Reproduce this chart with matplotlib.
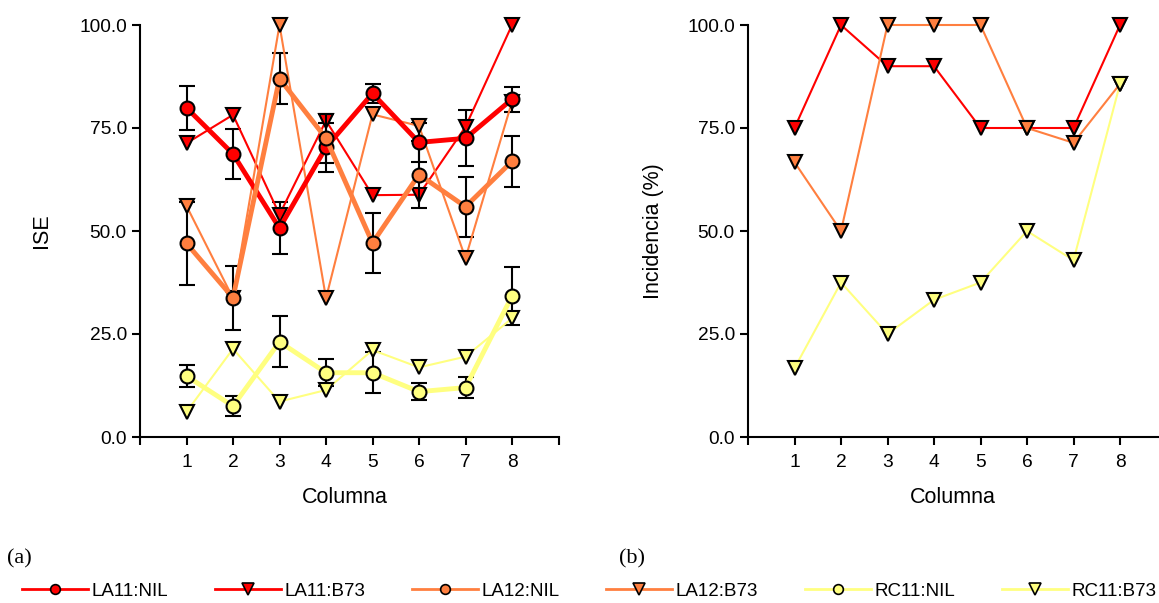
#!/usr/bin/env python3
# -*- coding: utf-8 -*-

import numpy as np
from matplotlib import pyplot as plt
from matplotlib.lines import Line2D

plt.rcParams['font.family'] = ['Liberation Sans', 'DejaVu Sans']

# column positions
columnas = [1, 2, 3, 4, 5, 6, 7, 8]
xtick_pos = [0, 1, 2, 3, 4, 5, 6, 7, 8, 9]
xtick_lab = ['', '1', '2', '3', '4', '5', '6', '7', '8', '']
ytick_pos = [0, 25, 50, 75, 100]

# (a) ISE
ise_la11_nil = [79.9, 68.7, 50.7, 70.3, 83.4, 71.5, 72.5, 82.0]
ise_la11_nil_err = [5.3, 6.1, 6.4, 6.0, 2.3, 4.8, 6.8, 3.0]
ise_la11_b73 = [71.3, 78.2, 54.0, 76.8, 58.7, 58.8, 75.3, 100.0]
ise_la12_nil = [47.0, 33.8, 87.0, 72.5, 47.1, 63.7, 55.9, 66.9]
ise_la12_nil_err = [10.0, 7.8, 6.1, 6.0, 7.2, 8.1, 7.3, 6.2]
ise_la12_b73 = [56.1, 33.7, 100.0, 33.7, 78.3, 75.5, 43.4, 81.4]
ise_rc11_nil = [14.8, 7.5, 23.1, 15.6, 15.6, 11.0, 12.0, 34.2]
ise_rc11_nil_err = [2.7, 2.5, 6.2, 3.3, 5.0, 2.0, 2.6, 7.0]
ise_rc11_b73 = [6.1, 21.4, 8.6, 11.4, 21.1, 16.9, 19.5, 28.8]

# (b) Incidencia (%)
inc_la11_b73 = [75.0, 100.0, 90.0, 90.0, 75.0, 75.0, 75.0, 100.0]
inc_la12_b73 = [66.7, 50.0, 100.0, 100.0, 100.0, 75.0, 71.4, 85.7]
inc_rc11_b73 = [16.7, 37.5, 25.0, 33.3, 37.5, 50.0, 42.9, 85.7]

ROJO = '#ff0000'
NARANJA = '#ff7f3f'
AMARILLO = '#ffff80'

TICK_FS = 13.8
LABEL_FS = 15.5


def style_axes(ax, ylabel, ylab_x):
    for s in ['top', 'right']:
        ax.spines[s].set_visible(False)
    for s in ['left', 'bottom']:
        ax.spines[s].set_linewidth(1.5)
    ax.set_xlim(0, 9)
    ax.set_ylim(0, 100)
    ax.set_xticks(xtick_pos)
    ax.set_xticklabels(xtick_lab)
    ax.set_yticks(ytick_pos)
    ax.set_yticklabels(['%.1f' % v for v in ytick_pos])
    ax.tick_params(direction='out', length=5.5, width=1.5, labelsize=TICK_FS, pad=4)
    ax.tick_params(axis='x', pad=7)
    ax.set_xlabel('Columna', fontsize=LABEL_FS)
    ax.set_ylabel(ylabel, fontsize=LABEL_FS)
    ax.xaxis.set_label_coords(0.49, -0.122)
    ax.yaxis.set_label_coords(ylab_x, 0.5)


def nil_series(ax, y, err, color):
    ax.errorbar(columnas, y, yerr=err, fmt='-o', color=color, lw=3.5,
                ms=10, mfc=color, mec='black', mew=1.5,
                ecolor='black', elinewidth=1.5, capsize=5.5, capthick=1.5,
                clip_on=False)


def b73_series(ax, y, color):
    ax.plot(columnas, y, '-v', color=color, lw=1.5, ms=10.5,
            mfc=color, mec='black', mew=1.5, clip_on=False)


def plot_data():
    fig = plt.figure(figsize=(11.59, 6.03), dpi=100)
    ax1 = fig.add_axes([140 / 1159, 166 / 603, 418.5 / 1159, 412 / 603])
    ax2 = fig.add_axes([748 / 1159, 166 / 603, 418.5 / 1159, 412 / 603])

    nil_series(ax1, ise_la11_nil, ise_la11_nil_err, ROJO)
    b73_series(ax1, ise_la11_b73, ROJO)
    nil_series(ax1, ise_la12_nil, ise_la12_nil_err, NARANJA)
    b73_series(ax1, ise_la12_b73, NARANJA)
    nil_series(ax1, ise_rc11_nil, ise_rc11_nil_err, AMARILLO)
    b73_series(ax1, ise_rc11_b73, AMARILLO)
    style_axes(ax1, 'ISE', -0.21)

    b73_series(ax2, inc_la11_b73, ROJO)
    b73_series(ax2, inc_la12_b73, NARANJA)
    b73_series(ax2, inc_rc11_b73, AMARILLO)
    style_axes(ax2, 'Incidencia (%)', -0.2)

    fig.text(7 / 1159, 1 - 559 / 603, '(a)', family='Liberation Serif',
             fontsize=16, va='center', ha='left')
    fig.text(619 / 1159, 1 - 559 / 603, '(b)', family='Liberation Serif',
             fontsize=16, va='center', ha='left')

    handles = []
    for color in [ROJO, NARANJA, AMARILLO]:
        handles.append(Line2D([], [], color=color, lw=2, marker='o', ms=7,
                              mfc=color, mec='black', mew=1.2))
        handles.append(Line2D([], [], color=color, lw=2, marker='v', ms=8,
                              mfc=color, mec='black', mew=1.2))
    labels = ['LA11:NIL', 'LA11:B73', 'LA12:NIL', 'LA12:B73', 'RC11:NIL', 'RC11:B73']
    fig.legend(handles, labels, ncol=6, frameon=False, fontsize=13.5,
               loc='center left', bbox_to_anchor=(22 / 1159, 1 - 591 / 603),
               borderaxespad=0, borderpad=0, handlelength=3.5,
               handletextpad=0.2, columnspacing=2.5)

    fig.savefig('out.png', dpi=100)


def main():
    plot_data()


if __name__ == "__main__":
    main()
